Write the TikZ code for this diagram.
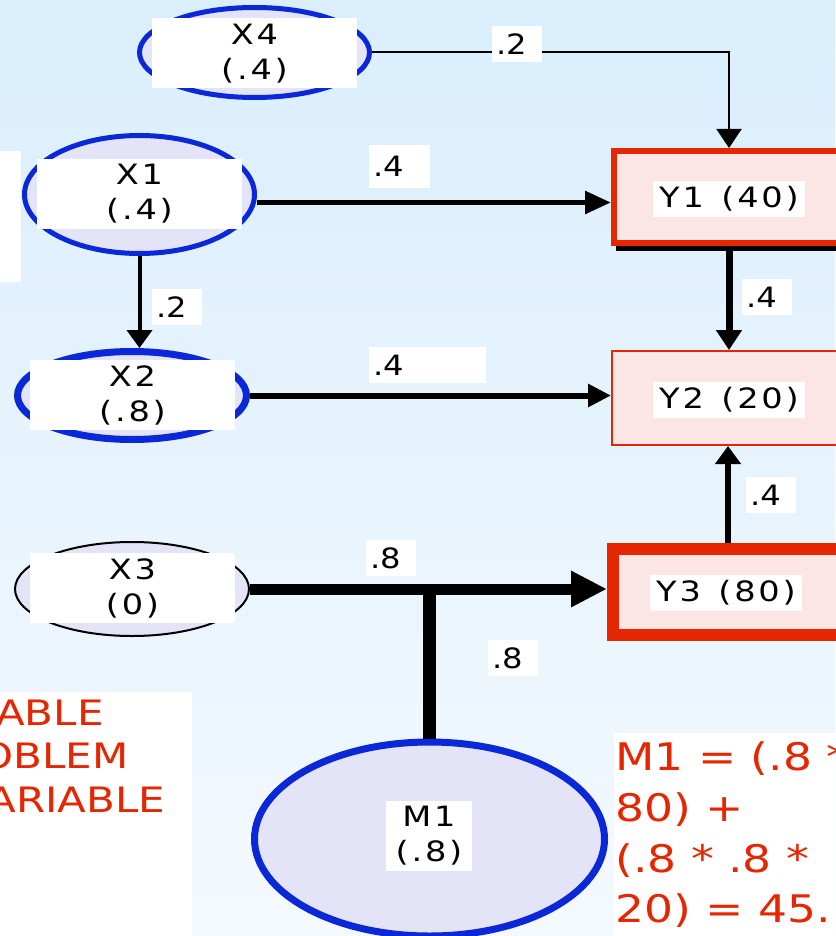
\documentclass[tikz,border=0pt]{standalone}
\usepackage{fontspec}
\usetikzlibrary{arrows.meta,shapes.geometric,shadows}
\setmainfont{DejaVu Sans}
\newfontfamily\lblfont[FakeStretch=1.2,LetterSpace=10]{DejaVu Sans}
\newfontfamily\pathfont[FakeStretch=1.15]{DejaVu Sans}
\newfontfamily\notefont[FakeStretch=1.2]{DejaVu Sans}
\definecolor{lineblue}{RGB}{10,40,215}
\definecolor{notered}{RGB}{229,38,0}
\definecolor{ovalfill}{RGB}{228,228,248}
\definecolor{boxfill}{RGB}{251,229,229}
\definecolor{bgtop}{RGB}{218,238,252}
\definecolor{bgbot}{RGB}{244,249,254}

\begin{document}
\begin{tikzpicture}[x=0.5pt, y=-0.5pt,
    every node/.style={inner sep=0pt},
    oval/.style={ellipse, draw=lineblue, fill=ovalfill},
    ovallbl/.style={fill=white, minimum width=102.5pt, minimum height=35pt, align=center, font=\lblfont\fontsize{14}{17.5}\selectfont},
    ybox/.style={draw=notered, fill=boxfill, minimum width=115pt},
    ylbl/.style={fill=white, minimum width=76pt, minimum height=18pt, font=\lblfont\fontsize{14}{17.5}\selectfont},
    wt/.style={fill=white, inner xsep=2pt, text width=21pt, minimum height=18pt, align=left, font=\pathfont\fontsize{14}{17.5}\selectfont},
    note/.style={text=notered, anchor=base west, font=\notefont\fontsize{19}{25}\selectfont},
    sidenote/.style={text=notered, anchor=base east, font=\notefont\fontsize{17.5}{22}\selectfont}]
    \useasboundingbox (0,0) rectangle (835,936);
    \fill[top color=bgtop, bottom color=bgbot] (0,0) rectangle (835,936);
    \fill[white] (0,151) rectangle (21,282);

    % Ovals on the left
    \node[oval, line width=2.5pt, minimum width=115pt, minimum height=45pt] (x4) at (254.5,52.5) {};
    \node[oval, line width=2.5pt, minimum width=115pt, minimum height=59pt] (x1) at (139.5,194.5) {};
    \node[oval, line width=3.5pt, minimum width=114.5pt, minimum height=44pt] (x2) at (132,395.5) {};
    \node[oval, draw=black, line width=1pt, minimum width=117pt, minimum height=47pt] (x3) at (132,589) {};
    \node[oval, line width=3.5pt, minimum width=175pt, minimum height=97pt] (m1) at (429.5,839) {};
    \node[ovallbl] (x4t) at (254.5,53.5) {X4\\(.4)};
    \node[ovallbl] (x1t) at (139.5,194) {X1\\(.4)};
    \node[ovallbl] (x2t) at (132.5,395) {X2\\(.8)};
    \node[ovallbl] (x3t) at (132.5,588) {X3\\(0)};
    \node[ovallbl, minimum width=43pt] (m1t) at (429,836) {M1\\(.8)};

    % Boxes on the right
    \node[ybox, line width=3pt, minimum height=46pt, drop shadow={shadow xshift=1pt, shadow yshift=-4pt, fill=black, opacity=1}] (y1) at (729,197) {};
    \node[ybox, line width=1pt, minimum width=117pt, minimum height=47pt] (y2) at (729,398) {};
    \node[ybox, line width=6pt, minimum height=43pt] (y3) at (728,592) {};
    \node[ylbl] (y1t) at (729,199) {Y1\hspace{2pt} (40)};
    \node[ylbl] (y2t) at (729,400) {Y2\hspace{2pt} (20)};
    \node[ylbl] (y3t) at (726,593) {Y3\hspace{2pt} (80)};

    % Paths
    \draw[line width=1pt, -{Triangle[length=9.5pt,width=12.5pt]}] (x4) -| (y1);
    \draw[line width=2.8pt, -{Triangle[length=13pt,width=11pt]}] ([yshift=-4pt]x1.east) -- ([yshift=-4pt]x1.east -| y1.west);
    \draw[line width=2pt, -{Triangle[length=9pt,width=12.5pt]}] (x1.south) -- (x1.south |- x2.north);
    \draw[line width=3pt, -{Triangle[length=11.5pt,width=11pt]}] (x2) -- (x2 -| y2.west);
    \draw[line width=3.5pt, -{Triangle[length=10pt,width=12.5pt]}] (y1) -- (y2);
    \draw[line width=3pt, -{Triangle[length=9pt,width=12.5pt]}] (y3.north) -- (y3.north |- y2.south);
    \draw[line width=5.5pt, -{Triangle[length=18pt,width=17pt]}] (x3) -- (x3 -| y3.west);
    \coordinate (mj) at (429.5,586);
    \draw[line width=6.5pt] (m1) -- (mj);

    % Path weights
    \node[wt] (w1) at (517,44) {.2};
    \node[wt, text width=26.5pt, minimum height=21.5pt] (w2) at (399.5,166.5) {.4};
    \node[wt] (w3) at (177,307) {.2};
    \node[wt, text width=54.5pt] (w4) at (427.5,365) {.4};
    \node[wt] (w5) at (767,297) {.4};
    \node[wt] (w6) at (771,495) {.4};
    \node[wt] (w7) at (391,558) {.8};
    \node[wt] (w8) at (513,658) {.8};

    % Notes
    \fill[white] (0,692) rectangle (192,936);
    \node[sidenote] (s1) at (104,725) {ABLE};
    \node[sidenote] (s2) at (129,768) {OBLEM};
    \node[sidenote] (s3) at (165.5,812) {ARIABLE};
    \fill[white] (614,733) rectangle (835,936);
    \foreach \txt [count=\i] in {{M1 = (.8 *}, {80) +}, {(.8 * .8 *}, {20) = 45.}}
        \node[note] (n\i) at (615,720+50.7*\i) {\txt};
\end{tikzpicture}
\end{document}
